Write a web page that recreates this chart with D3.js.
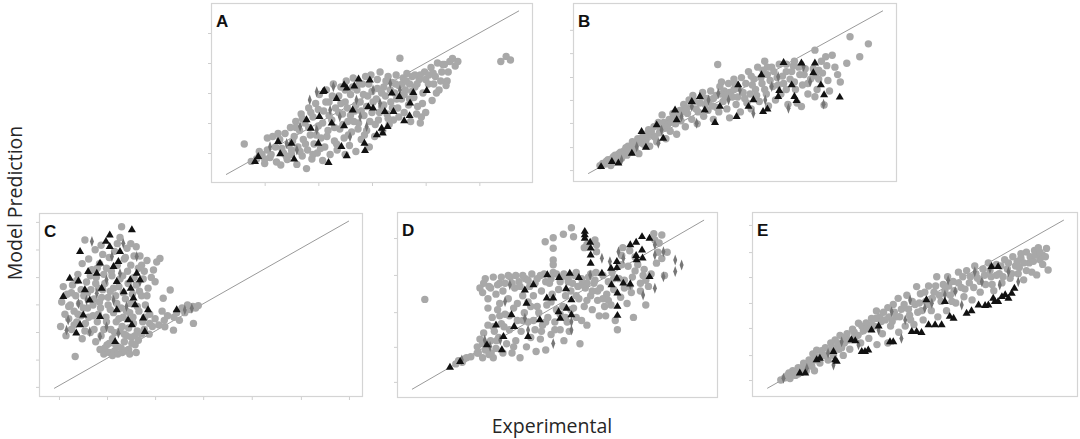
<!DOCTYPE html>
<html><head><meta charset="utf-8">
<script src="https://cdn.jsdelivr.net/npm/d3@7"></script>
<style>html,body{margin:0;padding:0;background:#fff;} svg{display:block}</style>
</head><body>
<svg id="c" width="1080" height="439"></svg>
<script>
// ---------- DATA (Experimental, Model Prediction) ----------
const panelNames = ["A","B","C","D","E"];
const seriesNames = ["circles","triangles","diamonds"];
const identityLine = [0.28, 5.74];

const circA = [[0.62,1.3],[0.75,0.72],[0.85,0.8],[0.95,0.95],[0.9,1.05],[1.0,0.65],[1.05,1.1],[1.1,0.85],[1.15,1.55],[1.2,1.2],[1.22,0.7],[1.28,1.45],[1.3,0.6],[1.35,1.0],[1.38,1.65],[1.42,0.78],[1.45,1.25],[1.48,1.85],[1.5,0.95],[1.55,1.55],
[1.58,2.05],[1.6,0.62],[1.62,1.2],[1.65,1.75],[1.68,2.3],[1.7,0.9],[1.72,1.45],[1.75,2.0],[1.78,0.48],[1.8,1.1],[1.82,2.5],[1.85,1.6],[1.88,0.8],[1.9,2.2],[1.92,1.3],[1.95,2.65],[1.98,1.0],[2.0,1.9],[2.02,2.95],[2.05,1.5],
[2.08,0.75],[2.1,2.4],[2.12,1.2],[2.15,3.1],[2.18,1.75],[2.2,2.7],[2.22,0.95],[2.25,2.1],[2.28,3.3],[2.3,1.4],[2.32,2.5],[2.35,1.1],[2.38,2.9],[2.4,1.8],[2.42,3.2],[2.45,2.3],[2.48,1.5],[2.5,2.7],[2.5,0.95],[2.52,3.4],
[2.55,2.05],[2.58,1.25],[2.6,2.95],[2.62,1.7],[2.65,3.5],[2.68,2.4],[2.7,1.05],[2.72,3.1],[2.75,2.0],[2.78,2.7],[2.8,1.45],[2.82,3.3],[2.85,2.25],[2.88,3.55],[2.9,1.75],[2.92,2.9],[2.95,1.2],[2.98,3.6],[3.0,2.35],[3.0,3.05],
[3.05,1.55],[3.08,2.8],[3.1,3.45],[3.12,2.1],[3.15,3.7],[3.18,2.55],[3.2,1.75],[3.22,3.2],[3.25,2.9],[3.28,2.3],[3.3,3.55],[3.32,1.95],[3.35,2.7],[3.38,3.35],[3.4,2.1],[3.42,3.0],[3.45,3.6],[3.48,2.5],[3.5,3.25],[3.52,4.16],
[3.55,2.8],[3.58,3.5],[3.6,2.35],[3.62,3.1],[3.65,3.65],[3.68,2.6],[3.7,3.3],[3.72,2.05],[3.75,3.55],[3.78,2.85],[3.8,3.2],[3.85,2.55],[3.88,3.45],[3.92,2.2],[3.95,3.0],[3.98,3.7],[4.0,2.35],
[4.05,3.3],[4.1,3.85],[4.12,2.75],[4.18,3.55],[4.22,4.0],[4.25,3.1],[4.3,3.7],[4.35,3.95],[4.4,3.4],[4.45,4.05],[4.5,4.15],[4.38,3.25],[4.2,3.0],
[5.4,4.05],[5.5,4.22],[5.58,4.1],
[1.05,1.5],[1.12,0.95],[1.25,1.65],[1.32,1.15],[1.4,0.9],[1.52,1.4],[1.58,1.85],[1.66,1.05],[1.7,2.15],[1.76,1.3],[1.82,1.85],[1.86,2.35],[1.9,0.95],[1.96,1.6],[2.0,2.45],[2.04,1.15],[2.08,2.0],[2.14,2.7],[2.16,1.55],[2.2,2.25],[2.26,2.9],[2.3,1.85],[2.34,1.3],[2.38,2.35],[2.42,2.65],[2.46,1.95],[2.5,3.1],[2.54,2.5],[2.56,1.6],[2.6,2.25],[2.64,3.2],[2.66,2.05],[2.7,2.6],[2.74,1.8],[2.76,3.3],[2.8,2.4],[2.84,2.95],[2.86,1.6],[2.9,2.55],[2.94,3.3],[2.96,2.05],[3.02,2.7],[3.06,1.95],[3.1,3.15],[3.14,2.35],[3.18,3.0],[3.22,2.6],[3.26,3.4],[3.3,2.15],[3.34,3.1],[3.38,2.5],[3.44,3.3],[3.46,2.8],[3.5,2.2],[3.56,3.3],[3.6,2.95],[3.64,3.4],[3.7,2.8],[3.74,3.05],[3.8,3.6],[3.84,3.3],[3.9,3.6],[3.94,2.65],[4.0,3.45],[4.06,3.6],[4.15,3.3],[4.28,3.4],[4.32,3.95],[4.42,3.7],[4.55,3.9],[4.6,4.05],[1.0,0.8],[0.9,0.9],[1.5,1.1],[3.83,2.3],[3.9,2.0],[4.14,3.66]];
const triA = [[0.82,0.71],[0.88,0.88],[1.25,1.38],[1.29,0.97],[1.5,1.32],[1.55,0.79],[1.78,2.1],[1.86,1.82],[2.0,1.32],[2.02,2.21],[2.09,3.04],[2.19,0.68],[2.25,1.99],[2.34,2.81],[2.43,1.21],[2.48,1.9],[2.48,3.27],[2.53,0.9],[2.64,2.43],[2.67,3.23],[2.75,3.46],[2.86,1.32],[2.87,1.08],[2.93,2.54],[2.96,3.43],[3.02,2.49],[3.09,1.6],[3.18,1.82],[3.2,1.66],[3.24,2.38],[3.29,1.88],[3.37,2.99],[3.4,2.38],[3.51,2.88],[3.6,2.07],[3.7,2.24],[3.71,2.66],[3.77,3.01],[4.02,3.08],[2.53,3.16],[2.11,3.08]];
const diaA = [[1.1,1.21],[1.41,1.32],[1.66,1.88],[1.84,2.77],[1.97,1.77],[2.22,2.43],[2.4,2.21],[2.71,2.77],[2.9,1.88],[3.15,2.66],[3.34,3.32],[3.52,3.1],[1.97,3.04],[2.59,1.54],[2.78,2.21],[1.6,1.1],[3.02,3.1],[2.28,3.21]];

const circB = [[0.5,0.55],[0.6,0.6],[0.65,0.75],[0.7,0.55],[0.75,0.85],[0.8,0.7],[0.85,0.95],[0.9,0.8],[0.95,1.05],[1.0,0.9],[1.02,1.2],[1.08,1.0],[1.1,1.35],[1.15,1.1],[1.2,1.45],[1.22,0.95],[1.28,1.3],[1.3,1.6],[1.35,1.4],[1.4,1.75],[1.42,1.2],[1.48,1.55],[1.5,1.85],[1.55,1.35],[1.58,2.0],[1.6,1.65],[1.65,2.25],[1.7,1.8],[1.72,1.45],[1.78,2.1],[1.8,1.7],[1.85,2.3],[1.9,1.95],[1.92,1.6],[1.98,2.4],[2.0,2.05],
[2.05,2.6],[2.08,1.85],[2.12,2.3],[2.15,2.75],[2.2,2.1],[2.22,2.9],[2.28,2.45],[2.3,1.95],[2.35,2.65],[2.4,3.0],[2.42,2.2],[2.48,2.8],[2.5,2.4],[2.55,3.05],[2.58,2.55],[2.6,2.1],[2.65,2.9],[2.68,3.94],[2.7,2.35],[2.72,3.2],[2.78,2.7],[2.8,3.05],[2.85,2.45],[2.88,3.3],[2.9,2.15],[2.95,2.85],[2.98,3.45],
[3.02,2.6],[3.05,3.15],[3.1,2.35],[3.12,3.5],[3.18,2.8],[3.2,3.3],[3.25,3.7],[3.28,2.95],[3.3,2.45],[3.35,3.45],[3.38,3.1],[3.42,3.85],[3.45,2.7],[3.5,3.3],[3.55,4.05],[3.58,2.95],[3.6,3.6],[3.62,2.55],[3.68,3.85],[3.7,3.2],[3.75,2.75],[3.78,3.5],[3.82,3.95],[3.85,2.95],[3.9,3.3],[3.95,3.7],[3.98,2.6],
[4.02,3.45],[4.08,3.9],[4.12,3.1],[4.15,2.65],[4.2,3.6],[4.25,3.25],[4.23,2.53],[4.3,3.8],[4.35,2.95],[4.4,3.45],[4.48,4.42],[4.48,2.86],[4.52,3.1],[4.55,3.75],[4.6,4.05],[4.65,2.58],[4.68,4.2],[4.72,3.4],[4.8,4.25],[4.85,3.85],[4.9,3.6],[5.07,3.98],[5.13,4.87],[5.31,4.2],[5.47,4.63],[4.95,3.35],[4.75,3.05],
[0.55,0.62],[0.62,0.7],[0.68,0.62],[0.72,0.78],[0.78,0.9],[0.82,0.78],[0.88,1.0],[0.92,0.9],[0.98,1.15],[1.05,1.05],[1.12,1.25],[1.18,1.3],[1.25,1.45],[1.32,1.25],[1.38,1.55],[1.45,1.7],[1.52,1.5],[1.6,1.85],[1.68,2.0],[1.75,1.9],[1.82,2.0],[1.88,2.2],[1.95,2.2],[2.02,2.35],[2.1,2.45],[2.18,2.55],[2.25,2.7],[2.32,2.35],[2.38,2.85],[2.45,2.6],[2.52,2.75],[2.6,2.8],[2.66,2.5],[2.74,2.95],[2.82,2.85],[2.9,3.0],[2.98,3.1],[3.05,2.85],[3.15,3.0],[3.22,2.65],[3.32,3.25],[3.4,2.9],[3.48,3.5],[3.55,3.1],[3.65,3.4],[3.72,3.7],[3.8,3.25],[3.88,3.55],[3.95,3.1],[4.05,3.7],[4.1,3.35],[4.18,3.85],[4.28,3.6],[4.35,3.3],[4.45,3.8],[4.55,3.45],[4.62,3.65],[4.7,3.9],[4.5,3.55],[3.52,3.75],[3.3,3.55],[3.0,3.3],[2.75,3.35],[3.6,3.85],[3.95,3.95],[4.1,4.05]];
const triB = [[0.52,0.51],[0.72,0.68],[0.84,0.63],[1.09,0.96],[1.27,1.69],[1.35,1.16],[1.55,1.91],[1.67,1.46],[1.89,2.41],[1.92,2.08],[2.2,2.69],[2.35,2.86],[2.44,2.41],[2.63,1.99],[2.72,2.53],[3.03,2.19],[3.06,3.25],[3.25,2.53],[3.34,2.75],[3.49,3.59],[3.52,2.36],[3.6,2.44],[3.8,2.86],[3.82,3.06],[3.9,4.0],[4.05,3.25],[4.1,2.86],[4.14,2.73],[4.45,3.66],[4.48,3.98],[4.59,3.25],[4.65,2.92],[4.94,2.84],[4.23,3.98]];
const diaB = [[0.9,0.74],[1.18,1.18],[1.58,1.3],[1.64,1.74],[2.01,2.19],[2.29,1.97],[2.51,2.75],[2.88,2.75],[3.09,3.08],[3.34,2.3],[3.56,2.75],[3.68,3.2],[3.99,2.47],[4.27,3.87],[4.39,3.36],[4.64,2.61],[3.8,3.53],[2.69,2.97],[2.2,2.53]];

const circC = [[0.4,2.3],[0.42,3.1],[0.45,3.6],[0.48,2.7],[0.5,2.0],[0.52,3.35],[0.55,2.55],[0.58,3.0],[0.6,2.2],[0.62,3.65],[0.65,2.8],[0.67,1.32],[0.68,3.3],[0.7,2.45],[0.72,4.0],[0.75,3.05],[0.78,2.65],[0.8,4.35],[0.8,1.9],
[0.83,3.3],[0.85,5.12],[0.86,2.4],[0.88,3.75],[0.9,2.9],[0.92,4.5],[0.95,2.1],[0.96,3.5],[0.98,4.15],[1.0,2.65],[1.02,3.2],[1.04,4.8],[1.05,1.8],[1.06,3.9],[1.08,2.45],[1.1,3.55],[1.12,4.35],[1.13,1.55],[1.14,2.9],[1.16,3.25],[1.18,4.65],[1.2,2.2],[1.2,1.4],
[1.22,3.7],[1.24,2.6],[1.25,4.2],[1.26,1.7],[1.28,3.0],[1.3,4.55],[1.3,1.45],[1.32,3.45],[1.33,2.2],[1.35,3.95],[1.36,1.9],[1.38,2.75],[1.4,4.75],[1.4,1.5],[1.42,3.3],[1.43,2.45],[1.45,4.3],[1.46,1.65],[1.48,3.6],[1.5,2.15],[1.5,5.2],[1.52,2.9],[1.53,5.55],[1.54,1.45],[1.55,3.95],[1.56,2.6],[1.58,4.5],[1.58,1.8],[1.6,3.2],
[1.62,2.0],[1.63,4.85],[1.65,3.7],[1.66,1.55],[1.68,2.75],[1.7,4.3],[1.71,1.95],[1.73,3.35],[1.75,2.4],[1.76,4.6],[1.78,1.7],[1.8,3.65],[1.82,2.15],[1.84,4.2],[1.85,2.8],[1.87,4.6],[1.9,3.3],[1.92,2.45],[1.95,4.1],[1.97,3.0],[2.0,4.45],[2.02,3.55],[2.05,2.4],[2.08,3.9],[2.12,4.14],[2.15,3.76],[2.24,4.52],[2.18,4.4],
[1.95,2.2],[2.05,2.7],[2.1,2.3],[2.15,2.55],[2.22,2.35],[2.28,2.8],[2.32,2.5],[2.38,2.65],[2.43,3.49],[2.3,3.22],[2.5,2.6],[2.55,2.75],[2.6,2.5],[2.65,2.9],[2.7,2.75],[2.75,3.0],[2.8,2.85],[2.85,2.95],[2.9,2.9],[2.95,2.98],[2.86,2.4],[2.49,2.18],[2.33,2.29],
[0.55,2.95],[0.6,3.4],[0.65,2.35],[0.7,3.8],[0.72,2.7],[0.78,3.5],[0.82,2.9],[0.85,2.15],[0.9,3.4],[0.92,2.6],[0.95,3.95],[1.0,3.0],[1.02,2.2],[1.05,3.7],[1.08,4.2],[1.1,2.7],[1.12,3.1],[1.15,2.0],[1.18,3.5],[1.2,4.0],[1.22,1.6],[1.25,2.45],[1.28,3.25],[1.3,1.75],[1.32,2.85],[1.34,4.1],[1.36,1.35],[1.38,3.55],[1.4,2.1],[1.42,1.7],[1.44,3.05],[1.46,1.4],[1.48,2.55],[1.5,3.85],[1.52,1.6],[1.54,2.3],[1.56,3.4],[1.58,2.05],[1.6,1.5],[1.62,2.8],[1.64,4.1],[1.66,2.25],[1.68,1.4],[1.7,3.05],[1.72,1.75],[1.74,2.6],[1.76,3.9],[1.78,2.0],[1.8,1.45],[1.82,2.95],[1.84,1.85],[1.86,3.45],[1.9,2.05],[1.93,3.85],[1.96,2.6],[2.0,3.3],[2.04,2.05],[1.7,5.0],[1.45,5.0],[1.15,4.95],[1.6,4.55],[1.8,4.9],[1.9,4.3]];
const triC = [[0.45,3.27],[0.57,3.87],[0.69,2.08],[0.76,4.74],[0.73,3.78],[0.76,2.35],[0.82,2.67],[0.85,3.49],[0.91,4.09],[0.94,3.16],[1.13,4.36],[1.16,3.54],[1.13,2.62],[1.24,5.07],[1.31,5.28],[1.31,4.9],[1.38,4.25],[1.44,3.76],[1.47,4.41],[1.5,4.74],[1.57,3.43],[1.69,3.82],[1.7,3.54],[1.72,5.45],[1.75,3.22],[1.78,3.0],[1.81,4.03],[1.65,2.51],[1.87,3.82],[1.93,2.57],[1.96,2.13],[1.41,1.8],[1.44,2.84],[1.07,4.03],[1.72,2.35],[2.55,2.84],[2.02,2.84]];
const diaC = [[0.54,2.51],[0.51,2.18],[0.73,3.05],[0.88,3.16],[0.98,5.07],[1.07,3.38],[1.25,3.82],[1.35,4.58],[1.5,4.03],[1.56,5.01],[1.62,2.95],[1.47,2.08],[1.81,4.58],[1.87,3.76],[1.38,3.16],[1.13,1.97],[0.94,2.13],[2.83,2.89],[2.7,2.84],[1.25,2.29]];

const circD = [[0.52,3.18],[1.1,1.1],[1.15,1.2],[1.25,1.25],[1.3,1.3],[1.38,1.33],[1.22,1.15],
[1.5,1.65],[1.52,1.45],[1.55,1.9],[1.6,1.3],[1.62,2.1],[1.65,1.55],[1.7,2.35],[1.72,1.4],[1.75,1.85],[1.78,2.6],[1.8,1.3],[1.82,2.15],[1.85,1.6],[1.88,2.85],[1.9,1.95],[1.92,3.05],[1.95,2.4],[1.98,1.45],[1.6,3.4],[1.62,3.7],[1.7,3.2],[1.75,3.55],[1.85,3.35],[1.92,3.7],[1.98,3.45],
[2.02,2.7],[2.05,1.75],[2.08,3.2],[2.1,2.2],[2.12,3.9],[2.15,1.45],[2.18,2.9],[2.2,3.55],[2.22,1.85],[2.25,2.5],[2.28,3.75],[2.3,1.3],[2.32,2.15],[2.35,3.3],[2.38,2.75],[2.4,3.85],[2.42,1.65],[2.45,2.45],[2.48,3.6],[2.5,2.95],[2.5,1.95],
[2.55,3.3],[2.58,2.2],[2.6,1.5],[2.62,3.85],[2.65,2.75],[2.68,1.9],[2.7,3.45],[2.72,2.35],[2.75,4.0],[2.78,1.55],[2.8,3.0],[2.82,2.6],[2.85,3.7],[2.88,2.05],[2.9,3.35],[2.92,4.05],[2.95,2.45],[2.98,2.85],[2.77,5.04],[2.92,5.17],[3.11,5.28],[3.26,5.49],[2.92,4.45],[2.92,4.3],[2.92,4.83],
[3.02,3.5],[3.05,2.2],[3.08,3.9],[3.1,2.95],[3.12,1.85],[3.15,3.3],[3.18,2.45],[3.2,3.75],[3.22,2.15],[3.25,3.45],[3.3,2.9],[3.32,3.95],[3.35,2.6],[3.38,3.6],[3.4,3.2],[3.42,1.75],[3.45,3.85],[3.5,2.95],[3.52,3.55],[3.55,2.35],[3.58,3.9],[3.5,4.85],[3.55,4.95],[3.73,4.94],[3.73,4.72],[3.7,5.1],[3.3,5.2],
[3.62,3.3],[3.65,2.85],[3.68,3.7],[3.72,4.05],[3.75,3.15],[3.78,2.65],[3.8,3.55],[3.85,3.95],[3.88,2.95],[3.9,2.65],[3.92,3.35],[3.95,3.75],[4.0,3.0],[4.02,4.05],[4.05,3.5],[4.08,2.5],[4.12,2.2],[4.15,3.85],[4.18,3.25],[4.2,4.6],[4.22,4.85],[4.25,3.55],[4.3,3.05],[4.32,4.25],[4.35,4.75],[4.38,3.4],[4.4,3.9],[4.42,2.6],[4.45,4.55],
[4.5,4.3],[4.55,3.7],[4.6,3.95],[4.62,4.15],[4.65,3.0],[4.7,3.6],[4.75,4.0],[4.8,5.3],[4.82,5.1],[4.85,4.35],[4.88,4.7],[4.9,5.0],[4.95,4.5],[5.0,3.95],[5.05,4.7],[4.95,5.26],
[1.55,3.55],[1.65,3.85],[1.72,3.6],[1.8,3.9],[1.88,3.65],[1.95,3.9],[2.02,3.7],[2.08,3.95],[2.15,3.7],[2.22,3.95],[2.3,3.6],[2.35,3.95],[2.45,3.8],[2.52,4.0],[2.58,3.7],[2.68,3.95],[2.78,3.75],[2.88,3.85],[2.98,4.0],[3.05,3.75],[3.12,4.0],[3.2,3.85],[3.28,3.7],[3.35,4.05],[3.45,3.65],[3.55,3.7],[3.62,4.0],[3.7,3.8],[1.7,2.9],[1.8,2.3],[1.92,2.65],[2.0,2.3],[2.1,2.65],[2.18,1.65],[2.25,3.05],[2.35,2.5],[2.45,3.1],[2.55,2.5],[2.62,2.95],[2.7,2.15],[2.78,2.45],[2.88,3.1],[2.95,2.2],[3.05,2.7],[3.15,2.6],[3.25,2.85],[3.35,3.3],[3.45,2.5],[3.55,3.15],[3.65,3.45],[3.75,3.45],[3.85,3.2],[3.95,3.15],[4.05,3.85],[4.25,3.8],[4.35,3.6],[4.55,3.45],[4.65,3.8],[4.45,4.1],[4.2,4.3],[1.6,1.75],[1.68,1.6],[1.76,1.45],[1.86,1.85],[1.5,1.45]];
const triD = [[0.99,0.99],[1.18,1.17],[1.96,1.55],[1.99,1.98],[2.14,2.68],[2.19,2.3],[2.39,3.48],[2.42,3.05],[2.45,1.98],[2.55,3.65],[2.67,2.52],[2.8,3.22],[2.81,3.97],[2.92,3.22],[3.02,2.78],[3.03,3.88],[3.05,2.57],[3.17,2.89],[3.16,3.52],[3.23,4.02],[3.26,2.68],[3.26,3.16],[3.4,3.88],[3.51,5.37],[3.51,5.26],[3.51,5.15],[3.61,5.02],[3.62,4.83],[3.62,4.61],[3.62,4.34],[3.83,4.02],[4.0,4.18],[4.01,3.65],[4.11,4.4],[4.11,4.2],[4.11,3.86],[4.12,3.38],[4.12,2.95],[4.12,2.66],[4.23,3.7],[4.36,4.94],[4.36,3.67],[4.47,5.02],[4.47,4.59],[4.48,4.45],[4.58,5.2],[4.58,4.77],[4.59,4.51],[4.72,5.15],[4.72,3.91],[1.85,2.35],[1.68,1.71]];
const diaD = [[1.21,1.23],[1.64,1.87],[1.74,1.66],[1.93,1.87],[2.02,3.11],[2.11,3.65],[2.39,2.57],[2.45,2.19],[2.92,1.76],[3.26,2.19],[3.61,3.97],[3.83,4.51],[3.98,4.4],[4.14,4.72],[4.23,4.51],[4.82,4.94],[4.82,4.61],[4.98,4.72],[5.2,4.45],[5.32,4.29],[5.2,4.08],[4.98,3.91],[4.82,3.54],[4.6,3.32],[4.36,3.65],[3.26,2.46]];

const circE = [[0.53,0.55],[0.65,0.7],[0.7,0.6],[0.75,0.85],[0.8,0.7],[0.85,0.95],[0.9,0.8],[0.95,1.1],[1.0,0.85],[1.05,1.2],[1.1,1.0],[1.12,1.4],[1.15,0.85],[1.19,1.52],[1.2,1.3],[1.25,1.1],[1.3,1.35],[1.35,1.6],[1.4,1.2],[1.45,1.75],[1.5,1.35],[1.53,1.85],[1.55,1.6],[1.6,1.55],[1.62,2.0],[1.68,1.35],[1.7,1.75],[1.75,2.05],[1.8,1.55],[1.85,2.2],[1.9,1.95],[1.96,2.39],[2.0,1.75],[2.05,2.15],[2.1,2.4],[2.15,1.9],[2.2,2.55],[2.25,2.3],[2.29,2.79],[2.3,1.7],[2.35,2.6],[2.4,2.05],[2.45,2.5],[2.5,2.9],[2.5,1.75],[2.55,2.3],[2.6,3.0],[2.65,2.6],[2.69,3.2],[2.7,2.1],[2.75,2.85],[2.82,2.3],[2.85,3.3],[2.9,2.65],[2.95,3.1],[2.98,2.35],[3.03,3.58],[3.05,2.75],[3.1,3.35],[3.15,2.5],[3.2,3.1],[3.25,3.6],[3.3,2.8],[3.35,3.4],[3.4,3.9],[3.42,2.6],[3.48,3.1],[3.52,3.65],[3.58,2.8],[3.6,3.9],[3.65,3.3],[3.7,3.75],[3.75,3.05],[3.8,4.05],[3.85,3.55],[3.9,3.25],[3.95,4.1],[4.0,3.7],[4.05,3.15],[4.1,4.25],[4.15,3.85],[4.2,3.4],[4.25,4.15],[4.3,3.65],[4.35,4.35],[4.4,3.9],[4.45,3.45],[4.5,4.3],[4.55,4.0],[4.6,3.7],[4.65,4.45],[4.7,4.15],[4.75,3.85],[4.8,4.55],[4.85,4.25],[4.9,4.0],[4.95,4.5],[5.0,3.8],[5.05,4.7],[5.1,4.35],[5.15,4.05],[5.2,4.75],[5.24,3.96],[5.27,4.84],[5.3,4.45],[5.42,4.82],[5.45,4.12],[5.35,4.6],
[0.6,0.62],[0.68,0.78],[0.78,0.8],[0.85,0.75],[0.92,0.95],[1.0,1.05],[1.08,1.1],[1.15,1.2],[1.22,1.25],[1.28,1.5],[1.35,1.35],[1.42,1.5],[1.48,1.6],[1.58,1.75],[1.65,1.6],[1.72,1.95],[1.78,1.85],[1.88,2.1],[1.95,2.0],[2.02,2.3],[2.12,2.25],[2.2,2.35],[2.28,2.55],[2.38,2.45],[2.42,2.75],[2.52,2.6],[2.58,2.45],[2.62,2.75],[2.72,2.6],[2.8,3.0],[2.88,2.85],[2.92,2.5],[3.0,3.0],[3.08,3.05],[3.12,2.8],[3.18,3.4],[3.25,3.0],[3.32,3.2],[3.38,3.6],[3.45,3.3],[3.55,3.45],[3.62,3.6],[3.68,3.1],[3.72,3.45],[3.8,3.7],[3.88,3.9],[3.92,3.5],[4.02,3.9],[4.08,3.55],[4.12,4.0],[4.2,3.75],[4.28,3.95],[4.38,4.1],[4.42,3.65],[4.5,3.95],[4.58,4.25],[4.62,3.9],[4.72,4.35],[4.78,4.0],[4.88,4.4],[4.92,4.2],[5.0,4.35],[5.05,4.1],[5.12,4.55],[5.18,4.4],[5.22,4.6],[5.3,4.7],[5.35,4.3],[5.4,4.55],[4.95,4.65]];
const triE = [[0.88,0.77],[0.98,0.77],[1.19,1.2],[1.25,1.25],[1.5,1.47],[1.53,1.2],[1.56,1.15],[1.83,1.85],[1.9,1.82],[2.02,1.47],[2.08,1.47],[2.14,1.52],[2.2,2.17],[2.33,2.3],[2.54,1.79],[2.6,1.79],[2.94,2.12],[3.03,2.12],[3.12,2.09],[3.21,3.15],[3.25,2.34],[3.37,2.34],[3.49,2.34],[3.64,2.61],[3.71,2.55],[3.95,2.71],[4.04,2.79],[4.17,2.98],[4.29,2.96],[4.35,2.98],[4.44,3.2],[4.47,3.09],[4.53,3.09],[4.6,3.25],[4.66,3.31],[4.72,3.2],[4.78,3.36],[4.83,3.52],[4.53,4.23],[4.41,4.23],[3.55,3.09]];
const diaE = [[0.58,0.61],[1.01,0.93],[1.4,1.42],[1.5,1.04],[1.65,1.79],[1.96,1.69],[2.33,2.17],[2.57,2.77],[2.82,2.5],[2.91,3.15],[3.18,2.88],[3.31,3.04],[3.61,3.79],[3.74,3.42],[3.86,2.98],[4.1,4.06],[4.23,3.74],[4.38,4.17],[4.56,3.63],[4.72,4.06],[4.9,3.74],[3.55,3.31],[2.75,1.9]];

// faint tick positions (data units)
const xTicksA = [1,2,3,4,5];
const yTicksA = [1,2,3,4,5];
const yTicksB = [0.40,1.17,1.98,2.75,3.52,4.32,5.1];
const xTicksC = [0.37,1.26,2.15,3.04,3.94,4.85,5.74];
const yTicksC = [0.33,1.22,2.12,3.02,3.91,4.81,5.71];
const yTicksD = [0.52,1.65,2.77,3.97,5.16];
const yTicksE = [0.55,1.36,2.24,3.05,3.89,4.7,5.58];

const xTitle = "Experimental";
const yTitle = "Model Prediction";

// ---------- LAYOUT ----------
const panels = [
  {name:"A", box:[211,3,322,180], circ:circA, tri:triA, dia:diaA, xt:xTicksA, yt:yTicksA},
  {name:"B", box:[573,3,324,179], circ:circB, tri:triB, dia:diaB, xt:[], yt:yTicksB},
  {name:"C", box:[39,213,324,184], circ:circC, tri:triC, dia:diaC, xt:xTicksC, yt:yTicksC},
  {name:"D", box:[397,212,321,186], circ:circD, tri:triD, dia:diaD, xt:[], yt:yTicksD},
  {name:"E", box:[752,212,326,185], circ:circE, tri:triE, dia:diaE, xt:[], yt:yTicksE}
];

const svg = d3.select("#c");
const triPath = d3.symbol().type(d3.symbolTriangle).size(28)();
const diaPath = d3.symbol().type(d3.symbolDiamond).size(22)();

panels.forEach(p => {
  const [bx,by,bw,bh] = p.box;
  const x = d3.scaleLinear().domain([0,6]).range([0,bw]);
  const y = d3.scaleLinear().domain([0,6]).range([bh,0]);
  const g = svg.append("g").attr("transform",`translate(${bx},${by})`);

  const ya = g.append("g").call(d3.axisLeft(y).tickValues(p.yt).tickSize(3).tickFormat(""));
  const xa = g.append("g").attr("transform",`translate(0,${bh})`).call(d3.axisBottom(x).tickValues(p.xt).tickSize(3).tickFormat(""));
  [ya,xa].forEach(a => { a.select(".domain").remove(); a.selectAll("line").attr("stroke","#cfcfcf"); });

  g.append("rect").attr("x",0.5).attr("y",0.5).attr("width",bw-1).attr("height",bh-1)
    .attr("fill","none").attr("stroke","#d4d4d4").attr("stroke-width",1.2);

  g.append("line")
    .attr("x1",x(identityLine[0])).attr("y1",y(identityLine[0]))
    .attr("x2",x(identityLine[1])).attr("y2",y(identityLine[1]))
    .attr("stroke","#9a9a9a").attr("stroke-width",1);

  g.append("g").selectAll("circle").data(p.circ).join("circle")
    .attr("cx",d=>x(d[0])).attr("cy",d=>y(d[1])).attr("r",3.7).attr("fill","#a8a8a8");
  g.append("g").selectAll("path").data(p.dia).join("path")
    .attr("d",diaPath).attr("transform",d=>`translate(${x(d[0])},${y(d[1])}) scale(0.8,1.25)`).attr("fill","#767676");
  g.append("g").selectAll("path").data(p.tri).join("path")
    .attr("d",triPath).attr("transform",d=>`translate(${x(d[0])},${y(d[1])})`).attr("fill","#111");

  g.append("text").attr("x",5).attr("y",24).text(p.name)
    .attr("font-family","Liberation Sans, Arial, sans-serif").attr("font-weight","bold").attr("font-size",17).attr("fill","#111");
});

svg.append("text").attr("transform","translate(22,203) rotate(-90)").attr("text-anchor","middle")
  .attr("font-family","Open Sans, Noto Sans, sans-serif").attr("font-size",19.5).attr("fill","#262626").text(yTitle);
svg.append("text").attr("x",552).attr("y",433).attr("text-anchor","middle")
  .attr("font-family","Open Sans, Noto Sans, sans-serif").attr("font-size",19.5).attr("fill","#262626").text(xTitle);
</script>
</body></html>
